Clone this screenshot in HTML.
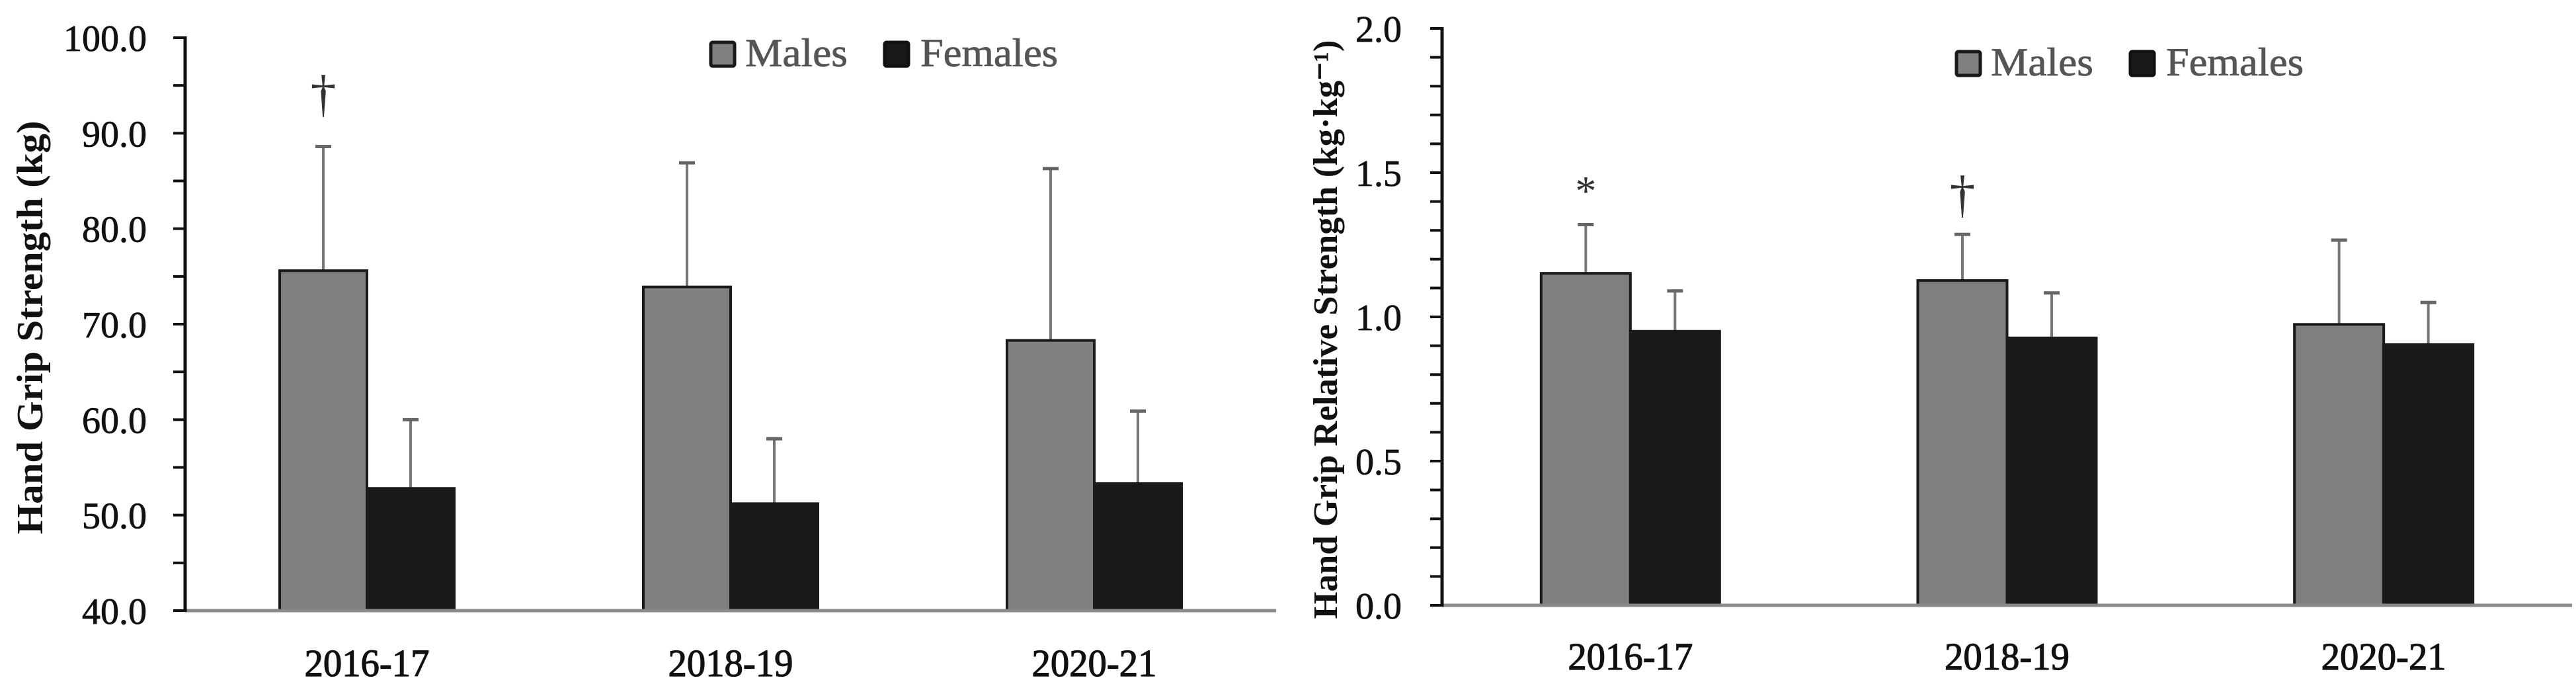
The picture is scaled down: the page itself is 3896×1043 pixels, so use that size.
<!DOCTYPE html>
<html><head><meta charset="utf-8"><style>
html,body{margin:0;padding:0;background:#fff;}
svg{display:block;font-family:"Liberation Serif",serif;}
</style></head><body>
<svg id="chart" width="3896" height="1043" viewBox="0 0 3896 1043" xmlns="http://www.w3.org/2000/svg">
<g id="left"></g>
<g id="right"></g>
</svg>
<script>
const categories = ["2016-17","2018-19","2020-21"];
const leftMales = [75.6, 73.9, 68.3];
const leftMalesErrTop = [88.6, 86.9, 86.3];
const leftFemales = [52.8, 51.2, 53.3];
const leftFemalesErrTop = [60.0, 58.0, 60.9];
const leftTicks = ["40.0","50.0","60.0","70.0","80.0","90.0","100.0"];
const rightMales = [1.151, 1.126, 0.974];
const rightMalesErrTop = [1.32, 1.286, 1.266];
const rightFemales = [0.95, 0.927, 0.904];
const rightFemalesErrTop = [1.09, 1.083, 1.05];
const rightTicks = ["0.0","0.5","1.0","1.5","2.0"];
const leftMarks = ["†","",""];
const rightMarks = ["*","†",""];

const NS="http://www.w3.org/2000/svg";
function mk(parent,tag,attrs,text){const e=document.createElementNS(NS,tag);for(const k in attrs)e.setAttribute(k,attrs[k]);if(text!==undefined)e.textContent=text;parent.appendChild(e);return e;}

function drawChart(g,cfg){
  const yScale=v=>cfg.y0+(v-cfg.vmin)/(cfg.vmax-cfg.vmin)*(cfg.y1-cfg.y0);
  const band=(cfg.xEnd-cfg.xAxis)/categories.length;
  const xC=i=>cfg.xAxis+band*(i+0.5);
  const nMinor=Math.round((cfg.vmax-cfg.vmin)/cfg.minor);
  for(let k=0;k<=nMinor;k++){
    const y=yScale(cfg.vmin+k*cfg.minor);
    const t=mk(g,'line',{x1:cfg.xAxis-18,x2:cfg.xAxis,y1:y,y2:y,stroke:'#111','stroke-width':4});
    
    
  }
  cfg.ticks.forEach(lbl=>{
    const v=parseFloat(lbl);const y=yScale(v);
    const t=mk(g,'text',{x:cfg.labelRight,y:y+20,'text-anchor':'end','font-size':56,fill:'#111',stroke:'#111','stroke-width':0.8},lbl);
    
    
  });
  categories.forEach((c,i)=>{
    const cx=xC(i);const w=cfg.barW;
    const series=[[cfg.males,cfg.mErr,'#7f7f7f',cx-w,'male'],[cfg.females,cfg.fErr,'#1a1818',cx,'female']];
    series.forEach(([vals,errs,col,x,nm])=>{
      const yt=yScale(vals[i]);const yb=yScale(cfg.vmin);
      const eTop=yScale(errs[i]);const ex=x+w/2;
      const el=mk(g,'line',{x1:ex,x2:ex,y1:eTop,y2:yt,stroke:'#777','stroke-width':4});
      
      
      const ec=mk(g,'line',{x1:ex-12,x2:ex+12,y1:eTop,y2:eTop,stroke:'#666','stroke-width':5});
      
      
      const r=mk(g,'rect',{x:x,y:yt,width:w,height:yb-yt,fill:col,stroke:'#1a1a1a','stroke-width':4});
      
      
    });
    const lab=mk(g,'text',{x:cx,y:cfg.catY,'text-anchor':'middle','font-size':58,fill:'#111',stroke:'#111','stroke-width':1.2,textLength:189,lengthAdjust:'spacingAndGlyphs'},c);
    
    
    if(cfg.marks[i]){
      const isDag=cfg.marks[i]==='†';
      const m=mk(g,'text',{x:cx-cfg.barW/2,y:isDag?cfg.dagY:cfg.astY,'text-anchor':'middle','font-size':isDag?78:64,fill:'#333'},cfg.marks[i]);
      
      
    }
  });
  const xa=mk(g,'line',{x1:cfg.xAxis,x2:cfg.xEnd,y1:yScale(cfg.vmin),y2:yScale(cfg.vmin),stroke:'#8a8a8a','stroke-width':5});
  
  
  const ya=mk(g,'line',{x1:cfg.xAxis,x2:cfg.xAxis,y1:yScale(cfg.vmax)-2,y2:yScale(cfg.vmin)+2,stroke:'#111','stroke-width':5});
  
  
  const tt=mk(g,'text',{x:0,y:0,transform:`translate(${cfg.titleX},${cfg.titleCY}) rotate(-90)`,'text-anchor':'middle','font-size':cfg.titleSize,'font-weight':'bold',fill:'#111',textLength:cfg.titleLen,lengthAdjust:'spacingAndGlyphs'},'');
  
  
  tt.textContent=cfg.title;
  const L=cfg.legend;
  const s1=mk(g,'rect',{x:L.x,y:L.y,width:36,height:36,fill:'#7f7f7f',stroke:'#1a1a1a','stroke-width':5,rx:3});
  
  
  const t1=mk(g,'text',{x:L.x+52,y:L.y+36,'font-size':60,fill:'#555',stroke:'#555','stroke-width':0.8,textLength:155,lengthAdjust:'spacingAndGlyphs'},'Males');
  
  
  const s2=mk(g,'rect',{x:L.x+263,y:L.y,width:36,height:36,fill:'#1a1818',stroke:'#111','stroke-width':5,rx:3});
  
  
  const t2=mk(g,'text',{x:L.x+317,y:L.y+36,'font-size':60,fill:'#555',stroke:'#555','stroke-width':0.8,textLength:208,lengthAdjust:'spacingAndGlyphs'},'Females');
  
  
}

drawChart(document.getElementById('left'),{
  vmin:40,vmax:100,minor:5,y0:923,y1:57,xAxis:280,xEnd:1930,barW:132,labelRight:222,
  males:leftMales,mErr:leftMalesErrTop,females:leftFemales,fErr:leftFemalesErrTop,
  ticks:leftTicks,marks:leftMarks,catY:1022,dagY:168,astY:168,
  title:"Hand Grip Strength (kg)",titleX:64,titleCY:495,titleSize:56,titleLen:625,
  legend:{x:1075,y:64}
});
drawChart(document.getElementById('right'),{
  vmin:0,vmax:2,minor:0.1,y0:915,y1:43,xAxis:2181,xEnd:3890,barW:135,labelRight:2120,
  males:rightMales,mErr:rightMalesErrTop,females:rightFemales,fErr:rightFemalesErrTop,
  ticks:rightTicks,marks:rightMarks,catY:1012,dagY:320,astY:310,
  title:"Hand Grip Relative Strength (kg·kg⁻¹)",titleX:2022,titleCY:498,titleSize:52,titleLen:875,
  legend:{x:2959,y:78}
});
</script>
</body></html>
